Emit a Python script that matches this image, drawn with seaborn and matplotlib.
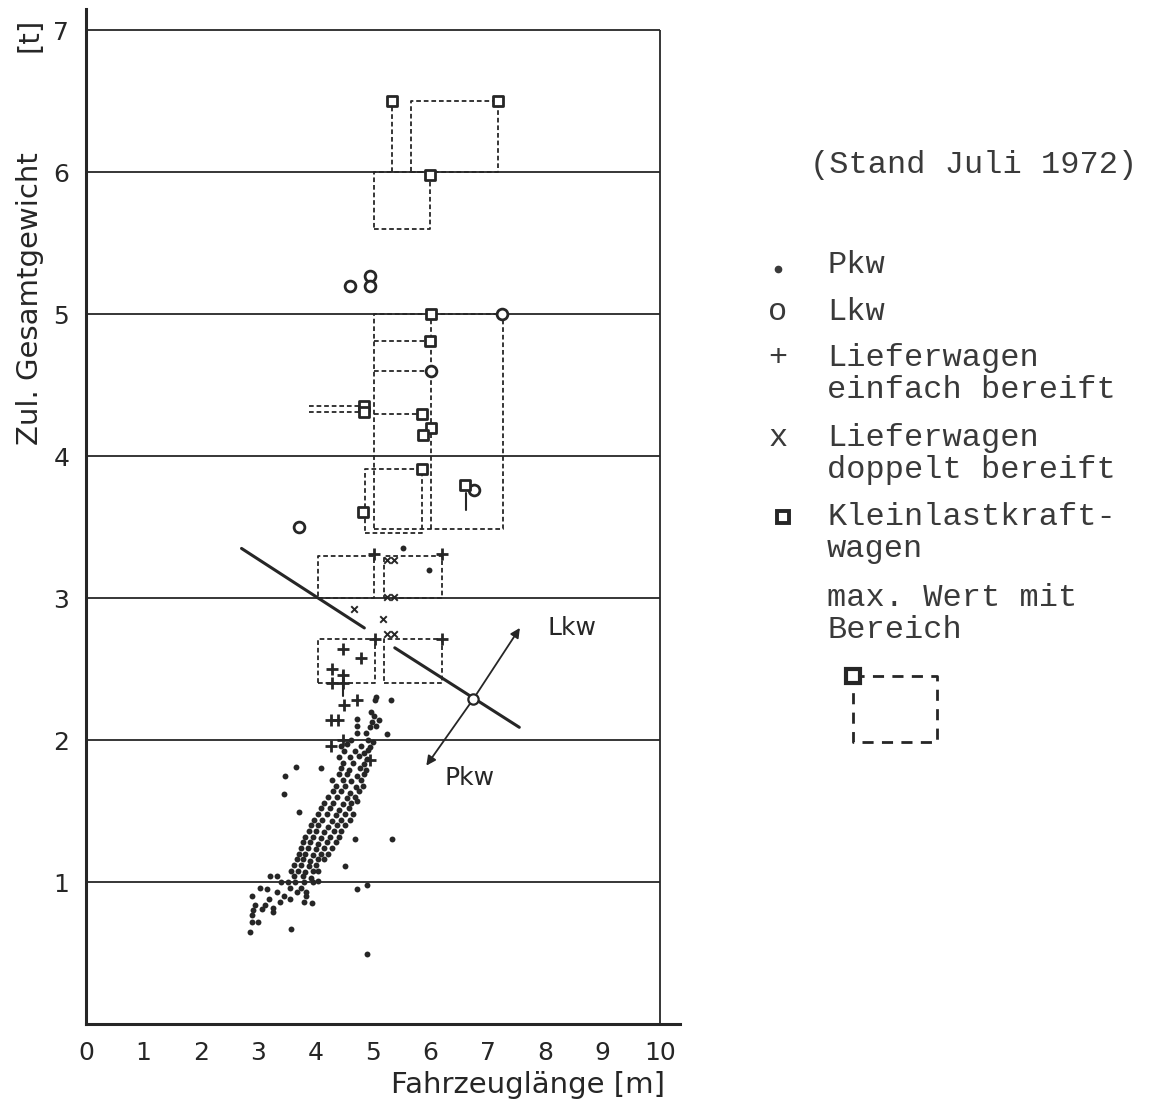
import numpy as np
import pandas as pd
import matplotlib
matplotlib.use("Agg")
import matplotlib.pyplot as plt
import seaborn as sns

# ---------------- data ----------------
x_ticks = [0, 1, 2, 3, 4, 5, 6, 7, 8, 9, 10]
y_ticks = [1, 2, 3, 4, 5, 6, 7]

# Pkw (dots)
pkw_len = [5.05, 5.31, 5.03, 4.97, 5.02, 4.72, 4.98, 5.10, 4.73, 4.95, 5.05, 4.72, 4.88, 5.25, 4.62, 4.92, 5.00,
           4.45, 4.55, 4.80, 4.95, 4.50, 4.68, 4.85, 4.92, 4.40, 4.60, 4.75, 4.90, 4.48, 4.65, 4.85,
           4.09, 3.66, 4.45, 4.58, 4.78, 4.88, 4.40, 4.55, 4.72, 4.85, 3.47,
           4.28, 4.48, 4.62, 4.80, 4.35, 4.52, 4.70, 4.82, 4.30, 4.45, 4.60, 4.75, 3.45,
           4.22, 4.38, 4.55, 4.68, 4.15, 4.30, 4.48, 4.62, 4.72, 4.10, 4.25, 4.40, 4.58, 3.72,
           4.05, 4.20, 4.35, 4.52, 4.65, 3.98, 4.12, 4.28, 4.45, 4.60, 3.92, 4.05, 4.22, 4.38, 4.52,
           3.88, 4.00, 4.15, 4.32, 4.45, 3.82, 3.95, 4.10, 4.25, 4.40, 4.69, 5.33,
           3.78, 3.90, 4.05, 4.20, 4.35, 3.75, 3.86, 4.00, 4.15, 4.28, 3.72, 3.82, 3.95, 4.10, 4.22,
           3.68, 3.78, 3.90, 4.05, 4.15, 3.62, 3.75, 3.88, 4.00, 4.52, 3.58, 3.70, 3.82, 3.95, 4.05,
           3.20, 3.32, 3.62, 3.78, 3.92, 3.40, 3.52, 3.65, 3.80, 3.95, 4.05, 4.89,
           3.03, 3.55, 3.75, 3.15, 4.72, 3.32, 3.67, 3.84, 2.89, 3.84, 3.45, 3.18, 3.55, 3.79, 3.93, 3.38,
           2.94, 3.12, 3.26, 3.06, 2.91, 3.26, 2.89, 2.89, 3.00, 3.58, 2.86, 4.89, 5.52, 5.98]
pkw_wt = [2.30, 2.28, 2.28, 2.20, 2.17, 2.15, 2.13, 2.14, 2.10, 2.09, 2.10, 2.05, 2.05, 2.04, 2.00, 2.00, 1.99,
          1.96, 1.97, 1.96, 1.95, 1.92, 1.92, 1.91, 1.93, 1.88, 1.88, 1.89, 1.87, 1.84, 1.84, 1.83,
          1.80, 1.81, 1.80, 1.79, 1.80, 1.79, 1.76, 1.76, 1.75, 1.76, 1.75,
          1.72, 1.72, 1.71, 1.72, 1.68, 1.68, 1.67, 1.68, 1.64, 1.64, 1.63, 1.64, 1.62,
          1.60, 1.60, 1.59, 1.60, 1.56, 1.56, 1.55, 1.56, 1.57, 1.52, 1.52, 1.51, 1.52, 1.49,
          1.48, 1.48, 1.47, 1.48, 1.48, 1.44, 1.44, 1.43, 1.44, 1.44, 1.40, 1.40, 1.39, 1.40, 1.40,
          1.36, 1.36, 1.35, 1.36, 1.36, 1.32, 1.32, 1.31, 1.32, 1.32, 1.30, 1.30,
          1.28, 1.28, 1.27, 1.28, 1.28, 1.24, 1.24, 1.23, 1.24, 1.24, 1.20, 1.20, 1.19, 1.20, 1.20,
          1.16, 1.16, 1.15, 1.16, 1.16, 1.12, 1.12, 1.11, 1.12, 1.11, 1.08, 1.08, 1.07, 1.08, 1.08,
          1.04, 1.04, 1.04, 1.04, 1.03, 1.00, 1.00, 1.00, 1.00, 1.00, 1.01, 0.98,
          0.96, 0.96, 0.96, 0.95, 0.95, 0.93, 0.93, 0.93, 0.90, 0.90, 0.90, 0.88, 0.88, 0.86, 0.85, 0.86,
          0.84, 0.84, 0.82, 0.81, 0.80, 0.79, 0.77, 0.72, 0.72, 0.67, 0.65, 0.49, 3.35, 3.20]

# Lkw (open circles)
lkw_len = [4.60, 4.95, 4.95, 3.71, 6.76, 6.02, 7.24]
lkw_wt = [5.20, 5.27, 5.20, 3.50, 3.76, 4.60, 5.00]

# Lieferwagen einfach bereift (+)
lief1_len = [5.02, 6.21, 5.03, 6.21, 4.48, 4.79, 4.28, 4.48, 4.28, 4.48, 4.49, 4.72, 4.27, 4.39, 4.27, 4.48, 4.95]
lief1_wt = [3.31, 3.31, 2.71, 2.71, 2.64, 2.58, 2.50, 2.46, 2.40, 2.40, 2.25, 2.28, 2.14, 2.14, 1.96, 2.00, 1.86]

# Lieferwagen doppelt bereift (x)
lief2_len = [5.24, 5.36, 5.24, 5.36, 4.67, 5.18, 5.24, 5.36]
lief2_wt = [3.27, 3.27, 3.01, 3.01, 2.92, 2.85, 2.75, 2.75]

# Kleinlastkraftwagen (squares)
klkw_len = [5.33, 7.18, 6.00, 6.02, 6.00, 4.85, 4.85, 5.85, 6.02, 5.88, 5.85, 4.82, 6.60]
klkw_wt = [6.50, 6.50, 5.98, 5.00, 4.81, 4.35, 4.31, 4.30, 4.20, 4.15, 3.91, 3.61, 3.80]

# ranges (dashed boxes or lines): length from-to, weight from-to
rng_x0 = [5.33, 5.66, 5.02, 5.02, 6.02, 5.02, 5.02, 3.89, 3.89, 5.02, 4.86, 4.05, 5.19, 4.05, 5.19]
rng_x1 = [5.33, 7.18, 6.00, 7.26, 6.02, 6.00, 6.00, 4.85, 4.85, 5.85, 5.85, 5.02, 6.21, 5.03, 6.21]
rng_y0 = [6.00, 6.00, 5.60, 3.49, 3.49, 4.81, 4.60, 4.35, 4.31, 4.30, 3.46, 3.00, 3.00, 2.40, 2.40]
rng_y1 = [6.50, 6.50, 6.00, 5.00, 5.00, 4.81, 4.60, 4.35, 4.31, 4.30, 3.91, 3.30, 3.30, 2.71, 2.71]

# short solid strokes
stroke_x = [6.62, 4.48]
stroke_y0 = [3.62, 2.31]
stroke_y1 = [3.74, 2.48]

# separating line Pkw / Lkw (two segments) and node with arrows
sep_len = [[2.71, 4.85], [5.38, 7.55]]
sep_wt = [[3.35, 2.79], [2.65, 2.09]]
node = (6.75, 2.29)
arrow_lkw = (7.56, 2.79)
arrow_pkw = (5.93, 1.82)

# ---------------- style ----------------
sns.set_theme(style="white")
plt.rcParams['font.family'] = ['DejaVu Sans']
INK = '#262626'
TXT = '#3a3a3a'
MONO = ['Liberation Mono', 'DejaVu Sans Mono']
DASH = (0, (2.6, 1.6))

W, H = 1157, 1104
fig = plt.figure(figsize=(W / 100, H / 100), dpi=100)
fig.patch.set_facecolor('white')
ax = fig.add_axes([86 / W, 1 - 1024 / H, 594 / W, 1015 / H])
ax.set_facecolor('white')
ax.set_xlim(0, 10.35)
ax.set_ylim(0, 7.15)

# grid / frame
ax.hlines(y_ticks, 0, 10, color=INK, lw=1.3, zorder=1)
ax.vlines(10, 0, 7, color=INK, lw=1.3, zorder=1)

# range boxes (single dashed line when degenerate)
for x0, x1, y0, y1 in zip(rng_x0, rng_x1, rng_y0, rng_y1):
    if x0 == x1 or y0 == y1:
        xs, ys = [x0, x1], [y0, y1]
    else:
        xs, ys = [x0, x1, x1, x0, x0], [y0, y0, y1, y1, y0]
    ax.plot(xs, ys, ls=DASH, lw=1.3, color=INK, zorder=2)

for sx, a, b in zip(stroke_x, stroke_y0, stroke_y1):
    ax.plot([sx, sx], [a, b], color=INK, lw=1.5, zorder=2)

# separating line
for sl, sw in zip(sep_len, sep_wt):
    ax.plot(sl, sw, color=INK, lw=2.2, solid_capstyle='round', zorder=3)
for end in (arrow_lkw, arrow_pkw):
    ax.annotate('', xy=end, xytext=node,
                arrowprops=dict(arrowstyle='-|>', color=INK, lw=1.3,
                                mutation_scale=14, shrinkA=4, shrinkB=0), zorder=3)
sns.scatterplot(x=[node[0]], y=[node[1]], ax=ax, marker='o', s=55, color='white',
                edgecolor=INK, linewidth=1.6, zorder=4)
ax.text(8.05, 2.79, 'Lkw', fontsize=18, color=INK, va='center', ha='left')
ax.text(6.25, 1.73, 'Pkw', fontsize=18, color=INK, va='center', ha='left')

# markers
sns.scatterplot(x=pkw_len, y=pkw_wt, ax=ax, marker='o', s=18, color=INK, linewidth=0, zorder=5)
sns.scatterplot(x=lkw_len, y=lkw_wt, ax=ax, marker='o', s=60, color='white',
                edgecolor=INK, linewidth=2, zorder=6)
sns.scatterplot(x=klkw_len, y=klkw_wt, ax=ax, marker='s', s=42, color='white',
                edgecolor=INK, linewidth=2, zorder=6)
sns.scatterplot(x=lief1_len, y=lief1_wt, ax=ax, marker='+', s=80, color=INK, linewidth=2, zorder=6)
sns.scatterplot(x=lief2_len, y=lief2_wt, ax=ax, marker='x', s=22, color=INK, linewidth=1.4, zorder=6)

# axes styling
for s in ('top', 'right'):
    ax.spines[s].set_visible(False)
for s in ('left', 'bottom'):
    ax.spines[s].set_color(INK)
    ax.spines[s].set_linewidth(2.2)
ax.set_xticks(x_ticks)
ax.set_yticks(y_ticks)
ax.set_xticklabels([str(v) for v in x_ticks])
ax.set_yticklabels([str(v) for v in y_ticks])
ax.tick_params(axis='x', direction='in', length=6, width=1.5, pad=12,
               labelsize=18, colors=INK)
ax.tick_params(axis='y', direction='inout', length=12, width=1.5, pad=6,
               labelsize=18, colors=INK)
ax.set_xlabel('')
ax.set_ylabel('')

fig.text(665 / W, 1 - 1085 / H, 'Fahrzeuglänge [m]', fontsize=21, color=INK,
         ha='right', va='center')
fig.text(30 / W, 1 - 445 / H, 'Zul. Gesamtgewicht', fontsize=21, color=INK,
         ha='center', va='bottom', rotation=90)
fig.text(30 / W, 1 - 18 / H, '[t]', fontsize=21, color=INK,
         ha='center', va='top', rotation=90)

# ---------------- legend (typewriter text) ----------------
lax = fig.add_axes([0, 0, 1, 1])
lax.set_xlim(0, W)
lax.set_ylim(H, 0)
lax.axis('off')
lax.patch.set_alpha(0)

leg_kw = dict(family=MONO, fontsize=23, color=TXT, va='center', ha='left')
lax.text(810, 165, '(Stand Juli 1972)', **leg_kw)
entries = [('.', 265, ['Pkw']),
           ('o', 312, ['Lkw']),
           ('+', 358, ['Lieferwagen', 'einfach bereift']),
           ('x', 438, ['Lieferwagen', 'doppelt bereift']),
           ('s', 517, ['Kleinlastkraft-', 'wagen']),
           ('', 598, ['max. Wert mit', 'Bereich'])]
for sym, yy, lines in entries:
    if sym == '.':
        lax.plot([778], [yy + 4], marker='o', ms=4.5, mfc=TXT, mec=TXT)
    elif sym == 's':
        lax.plot([783], [yy], marker='s', ms=9, mfc='white', mec=INK, mew=2.8)
    elif sym:
        lax.text(778, yy, sym, family=MONO, fontsize=23,
                 color=TXT, va='center', ha='center')
    for i, ln in enumerate(lines):
        lax.text(827, yy + 32 * i, ln, **leg_kw)

# legend example box
lax.plot([853, 937, 937, 853, 853], [676, 676, 742, 742, 683], ls=(0, (4, 3)),
         lw=2, color=INK)
lax.plot([853], [676], marker='s', ms=10, mfc='white', mec=INK, mew=3)

fig.savefig('out.png', dpi=100, facecolor='white')
